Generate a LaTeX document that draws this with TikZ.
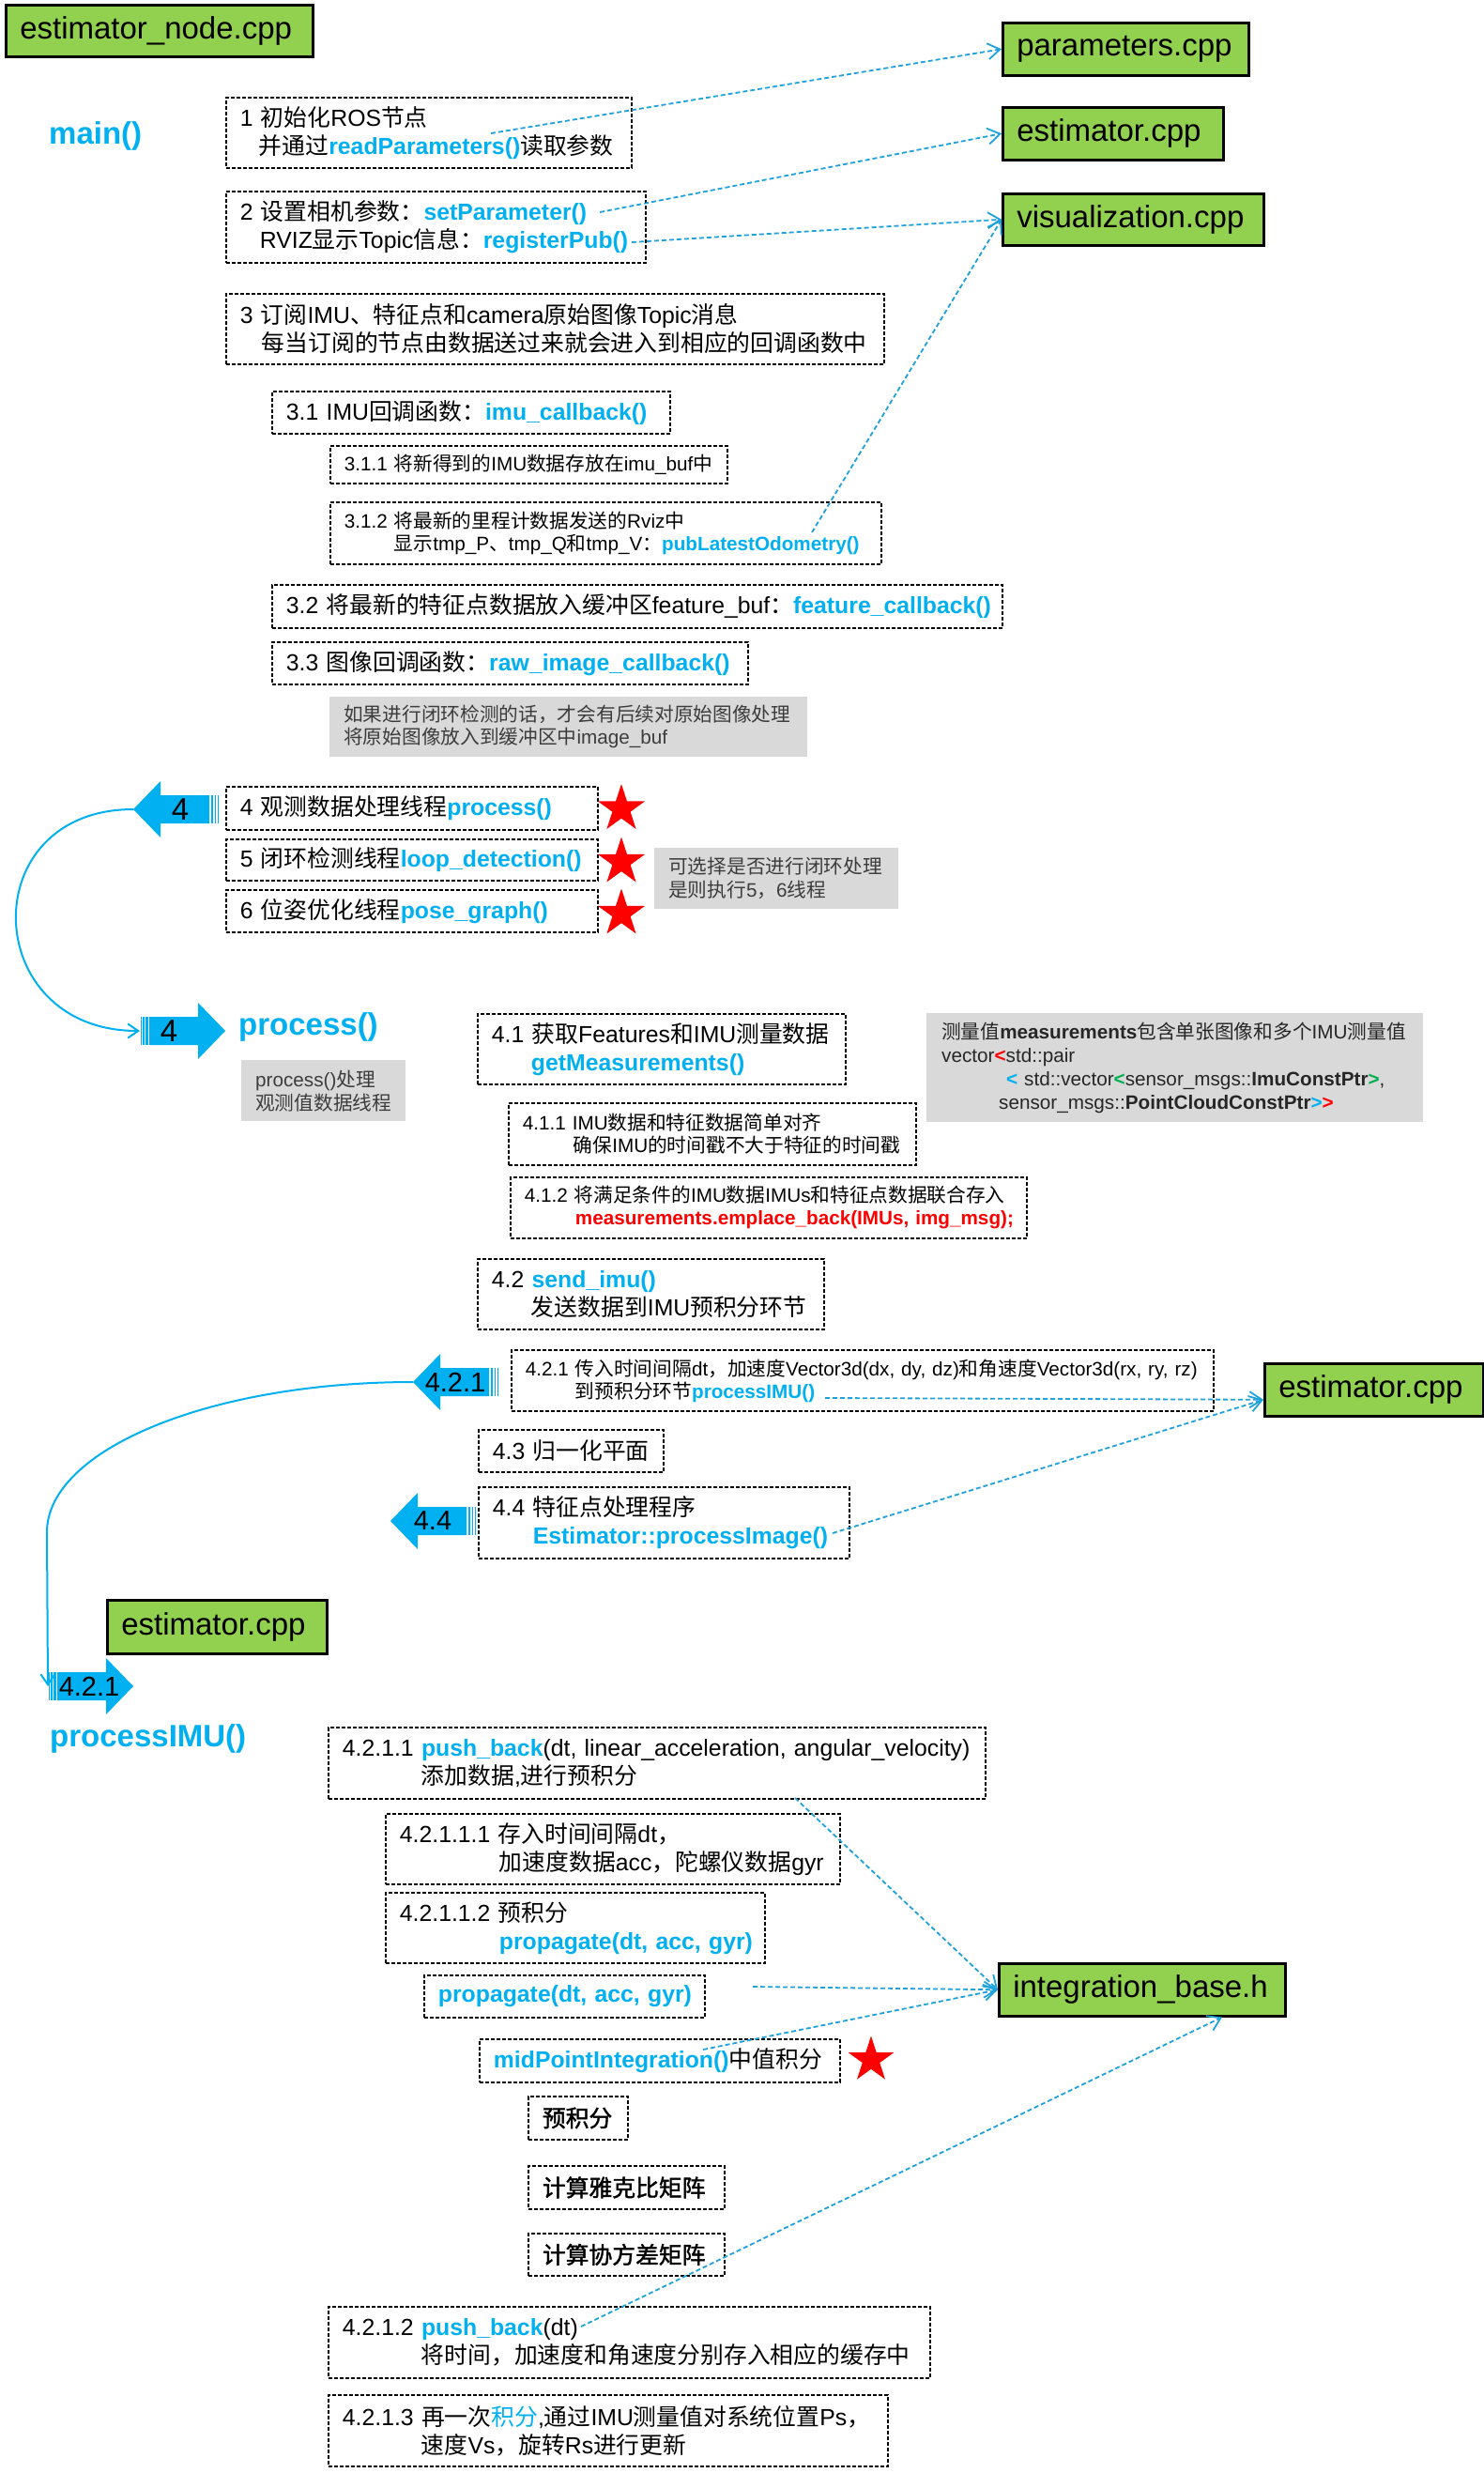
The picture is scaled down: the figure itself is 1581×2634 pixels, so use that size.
\documentclass[tikz,border=0pt]{standalone}
\usepackage{fontspec}
\setmainfont{Liberation Sans}
\newfontfamily\cjkfont[BoldFont={Noto Sans CJK SC},BoldFeatures={FakeBold=1.6}]{Noto Sans CJK SC}
\usetikzlibrary{arrows.meta,shapes.geometric,calc}

% Han characters and CJK punctuation switch to the CJK family automatically
\XeTeXinterchartokenstate=1
\newXeTeXintercharclass\hanclass
\newcount\hanidx
\hanidx="4E00
\loop
  \XeTeXcharclass\hanidx=\hanclass
  \advance\hanidx by 1
\ifnum\hanidx<"A000 \repeat
\hanidx="3000
\loop
  \XeTeXcharclass\hanidx=\hanclass
  \advance\hanidx by 1
\ifnum\hanidx<"3040 \repeat
\hanidx="FF00
\loop
  \XeTeXcharclass\hanidx=\hanclass
  \advance\hanidx by 1
\ifnum\hanidx<"FFF0 \repeat
\XeTeXinterchartoks 0 \hanclass = {\begingroup\cjkfont}
\XeTeXinterchartoks 4095 \hanclass = {\begingroup\cjkfont}
\XeTeXinterchartoks \hanclass 0 = {\endgroup}
\XeTeXinterchartoks \hanclass 4095 = {\endgroup}

\definecolor{fnblue}{RGB}{0,176,240}
\definecolor{lineblue}{RGB}{30,162,222}
\definecolor{boxgreen}{RGB}{146,208,80}
\definecolor{notegray}{RGB}{217,217,217}
\definecolor{notetext}{RGB}{60,60,60}
\definecolor{okgreen}{RGB}{0,176,80}

\newcommand{\fsbig}{\fontsize{33pt}{38pt}\selectfont}
\newcommand{\fsmain}{\fontsize{24.8pt}{30pt}\selectfont}
\newcommand{\fssmall}{\fontsize{20.7pt}{24pt}\selectfont}
\newcommand{\fsnote}{\fontsize{20.7pt}{25pt}\selectfont}
\newcommand{\fnc}[1]{{\color{fnblue}\bfseries #1}}
% one unbreakable text line, optionally indented
\newcommand{\tline}[2][0pt]{\hspace*{#1}\mbox{#2}}

% striped block arrow: name, tip, direction (1 right / -1 left), label, label distance, font
\newcommand{\stripearrow}[6]{%
  \begin{scope}[shift={#2}, xscale=#3]
    \fill[fnblue] (0,0) -- (-29,-30) -- (-29,-15) -- (-81,-15) -- (-81,15)
      -- (-29,15) -- (-29,30) -- cycle;
    \fill[fnblue] (-82.5,-15) rectangle (-85,15);
    \fill[fnblue] (-86.5,-15) rectangle (-88,15);
    \fill[fnblue] (-89.5,-15) rectangle (-90.5,15);
    \coordinate (#1tip) at (0,0);
    \coordinate (#1tail) at (-91,0);
    \node[font=#6, inner sep=0pt, text=black] (#1) at (-#5,0) {#4};
  \end{scope}}

\tikzset{
  dbox/.style={draw=black, line width=1.8pt, dash pattern=on 4pt off 2pt,
    inner xsep=15pt, inner ysep=0pt, align=left, anchor=north west,
    font=\fsmain, text=black},
  notebox/.style={fill=notegray, inner xsep=15pt, inner ysep=0pt, align=left,
    anchor=north west, font=\fsnote, text=notetext},
  gbox/.style={draw=black, line width=2.5pt, fill=boxgreen, inner xsep=15pt,
    inner ysep=0pt, align=left, anchor=north west, font=\fsbig, text=black},
  titletext/.style={font=\fsbig\bfseries, text=fnblue, inner sep=0pt, anchor=west},
  redstar/.style={star, star points=5, star point ratio=2.618, fill=red,
    draw=none, inner sep=0pt, minimum size=53pt},
  conn/.style={draw=lineblue, line width=1.8pt, dash pattern=on 5pt off 3pt,
    -{Straight Barb[length=13pt,width=17pt]}},
  loopline/.style={draw=fnblue, line width=2pt,
    -{Straight Barb[length=11pt,width=15pt]}}
}

\begin{document}
\begin{tikzpicture}[x=1pt,y=-1pt]
\useasboundingbox (0,0) rectangle (1581,2634);
\fill[white] (0,0) rectangle (1581,2634);

% ---------- source files ----------
\node[gbox, text width=297pt, minimum height=55pt] (gnode) at (5,4) {estimator\_node.cpp};
\node[gbox, text width=232pt, minimum height=56pt] (gpar) at (1067,23) {parameters.cpp};
\node[gbox, text width=205pt, minimum height=56pt] (gest1) at (1067,113) {estimator.cpp};
\node[gbox, text width=248pt, minimum height=55pt] (gvis) at (1067,205) {visualization.cpp};
\node[gbox, text width=203pt, minimum height=56pt] (gest2) at (1346,1451) {estimator.cpp};
\node[gbox, text width=204pt, minimum height=57pt] (gest3) at (113,1703) {estimator.cpp};
\node[gbox, text width=275pt, minimum height=56pt] (gib) at (1063,2090) {integration\_base.h};

% ---------- main() ----------
\node[titletext] (tmain) at (52,145) {main()};

\node[dbox, text width=402pt, minimum height=75pt] (b1) at (240,103)
  {\tline{1 初始化ROS节点}\\\tline[20pt]{并通过\fnc{readParameters()}读取参数}};
\node[dbox, text width=417pt, minimum height=76pt] (b2) at (240,203)
  {\tline{2 设置相机参数：\fnc{setParameter()}}\\\tline[21pt]{RVIZ显示Topic信息：\fnc{registerPub()}}};
\node[dbox, text width=671pt, minimum height=75pt] (b3) at (240,312)
  {\tline{3 订阅IMU、特征点和camera原始图像Topic消息}\\\tline[23pt]{每当订阅的节点由数据送过来就会进入到相应的回调函数中}};
\node[dbox, text width=394pt, minimum height=45pt] (b31) at (289,416)
  {\tline{3.1 IMU回调函数：\fnc{imu\_callback()}}};
\node[dbox, font=\fssmall, text width=393pt, minimum height=40pt] (b311) at (351,474)
  {\tline{3.1.1 将新得到的IMU数据存放在imu\_buf中}};
\node[dbox, font=\fssmall, text width=557pt, minimum height=66pt] (b312) at (351,534)
  {\tline{3.1.2 将最新的里程计数据发送的Rviz中}\\\tline[53pt]{显示tmp\_P、tmp\_Q和tmp\_V：\fnc{pubLatestOdometry()}}};
\node[dbox, text width=748pt, minimum height=46pt] (b32) at (289,622)
  {\tline{3.2 将最新的特征点数据放入缓冲区feature\_buf：\fnc{feature\_callback()}}};
\node[dbox, text width=477pt, minimum height=45pt] (b33) at (289,683)
  {\tline{3.3 图像回调函数：\fnc{raw\_image\_callback()}}};
\node[notebox, text width=479pt, minimum height=64pt, font=\fontsize{20.7pt}{24pt}\selectfont] (n1) at (351,742)
  {\tline{如果进行闭环检测的话，才会有后续对原始图像处理}\\\tline{将原始图像放入到缓冲区中image\_buf}};

% ---------- threads ----------
\node[dbox, text width=366pt, minimum height=46pt] (b4) at (240,837)
  {\tline{4 观测数据处理线程\fnc{process()}}};
\node[dbox, text width=366pt, minimum height=44pt] (b5) at (240,893)
  {\tline{5 闭环检测线程\fnc{loop\_detection()}}};
\node[dbox, text width=366pt, minimum height=45pt] (b6) at (240,947)
  {\tline{6 位姿优化线程\fnc{pose\_graph()}}};
\node[redstar] (s4) at (662,861.5) {};
\node[redstar] (s5) at (662,918) {};
\node[redstar] (s6) at (662,973) {};
\node[notebox, text width=230pt, minimum height=65pt] (n2) at (697,903)
  {\tline{可选择是否进行闭环处理}\\\tline{是则执行5，6线程}};

\stripearrow{a1}{(142,862)}{-1}{4}{50}{\fsbig}
\stripearrow{a2}{(240,1098)}{1}{4}{60}{\fsbig}
\draw[loopline] (a1tip) .. controls +(-171,0) and +(-171,0) .. (a2tail);

% ---------- process() ----------
\node[titletext] (tproc) at (254,1094) {process()};
\node[notebox, text width=145pt, minimum height=65pt] (n3) at (257,1129)
  {\tline{process()处理}\\\tline{观测值数据线程}};

\node[dbox, text width=362pt, minimum height=75pt] (b41) at (508,1079)
  {\tline{4.1 获取Features和IMU测量数据}\\\tline[42pt]{\fnc{getMeasurements()}}};
\node[notebox, text width=497pt, minimum height=116pt, inner xsep=16pt, text=black!85] (n4) at (987,1079)
  {\tline{测量值\textbf{measurements}包含单张图像和多个IMU测量值}\\
   \tline{vector\textcolor{red}{\textbf{<}}std::pair}\\
   \tline[69pt]{\textcolor{fnblue}{\textbf{<}} std::vector\textcolor{okgreen}{\textbf{<}}sensor\_msgs::\textbf{ImuConstPtr}\textcolor{okgreen}{\textbf{>}},}\\
   \tline[61pt]{sensor\_msgs::\textbf{PointCloudConstPtr}\textcolor{fnblue}{\textbf{>}}\textcolor{red}{\textbf{>}}}};
\node[dbox, font=\fssmall, text width=404pt, minimum height=66pt] (b411) at (541,1174)
  {\tline{4.1.1 IMU数据和特征数据简单对齐}\\\tline[54pt]{确保IMU的时间戳不大于特征的时间戳}};
\node[dbox, font=\fssmall, text width=520pt, minimum height=65pt] (b412) at (543,1253)
  {\tline{4.1.2 将满足条件的IMU数据IMUs和特征点数据联合存入}\\\tline[54pt]{\textcolor{red}{\bfseries measurements.emplace\_back(IMUs, img\_msg);}}};
\node[dbox, text width=339pt, minimum height=75pt] (b42) at (508,1340)
  {\tline{4.2 \fnc{send\_imu()}}\\\tline[42pt]{发送数据到IMU预积分环节}};
\node[dbox, font=\fssmall, text width=718pt, minimum height=65pt] (b421) at (544,1437)
  {\tline{4.2.1 传入时间间隔dt，加速度Vector3d(dx, dy, dz)和角速度Vector3d(rx, ry, rz)}\\\tline[53pt]{到预积分环节\fnc{processIMU()}}};
\node[dbox, text width=167pt, minimum height=45pt] (b43) at (509,1522)
  {\tline{4.3 归一化平面}};
\node[dbox, text width=365pt, minimum height=76pt] (b44) at (509,1583)
  {\tline{4.4 特征点处理程序}\\\tline[43pt]{\fnc{Estimator::processImage()}}};

\stripearrow{a3}{(440,1472)}{-1}{4.2.1}{45}{\fontsize{29pt}{34pt}\selectfont}
\stripearrow{a4}{(416,1620)}{-1}{4.4}{45}{\fontsize{29pt}{34pt}\selectfont}
\stripearrow{a5}{(142,1796)}{1}{4.2.1}{47}{\fontsize{29pt}{34pt}\selectfont}
\coordinate (bend) at (50,1632);
\draw[loopline] (a3tip) .. controls +(-216,0) and +(0,-88) .. (bend) -- (a5tail);

% ---------- processIMU() ----------
\node[titletext] (timu) at (53,1852) {processIMU()};

\node[dbox, text width=670pt, minimum height=76pt] (b4211) at (349,1839)
  {\tline{4.2.1.1 \fnc{push\_back}(dt, linear\_acceleration, angular\_velocity)}\\\tline[84pt]{添加数据,进行预积分}};
\node[dbox, text width=454pt, minimum height=75pt] (b42111) at (410,1931)
  {\tline{4.2.1.1.1 存入时间间隔dt，}\\\tline[106pt]{加速度数据acc，陀螺仪数据gyr}};
\node[dbox, text width=374pt, minimum height=75pt] (b42112) at (410,2015)
  {\tline{4.2.1.1.2 预积分}\\\tline[106pt]{\fnc{propagate(dt, acc, gyr)}}};
\node[dbox, text width=269pt, minimum height=45pt] (bprop) at (451,2103)
  {\tline{\fnc{propagate(dt, acc, gyr)}}};
\node[dbox, text width=354pt, minimum height=46pt] (bmid) at (510,2171)
  {\tline{\fnc{midPointIntegration()}中值积分}};
\node[redstar, minimum size=51pt] (s7) at (928,2194) {};
\node[dbox, text width=76pt, minimum height=46pt, font=\fsmain\bfseries] (bpre) at (562,2232)
  {\tline{预积分}};
\node[dbox, text width=179pt, minimum height=46pt, font=\fsmain\bfseries] (bjac) at (562,2306)
  {\tline{计算雅克比矩阵}};
\node[dbox, text width=179pt, minimum height=45pt, font=\fsmain\bfseries] (bcov) at (562,2378)
  {\tline{计算协方差矩阵}};
\node[dbox, text width=611pt, minimum height=76pt] (b4212) at (349,2456)
  {\tline{4.2.1.2 \fnc{push\_back}(dt)}\\\tline[84pt]{将时间，加速度和角速度分别存入相应的缓存中}};
\node[dbox, text width=566pt, minimum height=76pt] (b4213) at (349,2550)
  {\tline{4.2.1.3 再一次\textcolor{fnblue}{积分},通过IMU测量值对系统位置Ps，}\\\tline[84pt]{速度Vs，旋转Rs进行更新}};

% ---------- call links to the source files ----------
\coordinate (c1) at (523,142);
\coordinate (c2) at (639,226);
\coordinate (c3) at (673,258);
\coordinate (c4) at (865,567);
\coordinate (c5) at (879,1489);
\coordinate (c6) at (887,1633);
\coordinate (c7) at (847,1915);
\coordinate (c8) at (802,2116);
\coordinate (c9) at (749,2183);
\coordinate (c10) at (619,2478);
\coordinate (e2in) at ($(gest2.north west)!0.68!(gest2.south west)$);
\coordinate (ibin) at ($(gib.south west)!0.777!(gib.south east)$);

\draw[conn] (c1) -- (gpar.west);
\draw[conn] (c2) -- (gest1.west);
\draw[conn] (c3) -- (gvis.west);
\draw[conn] (c4) -- (gvis.west);
\draw[conn] (c5) -- (e2in);
\draw[conn] (c6) -- (e2in);
\draw[conn] (c7) -- (gib.west);
\draw[conn] (c8) -- (gib.west);
\draw[conn] (c9) -- (gib.west);
\draw[conn] (c10) -- (ibin);
\end{tikzpicture}
\end{document}
